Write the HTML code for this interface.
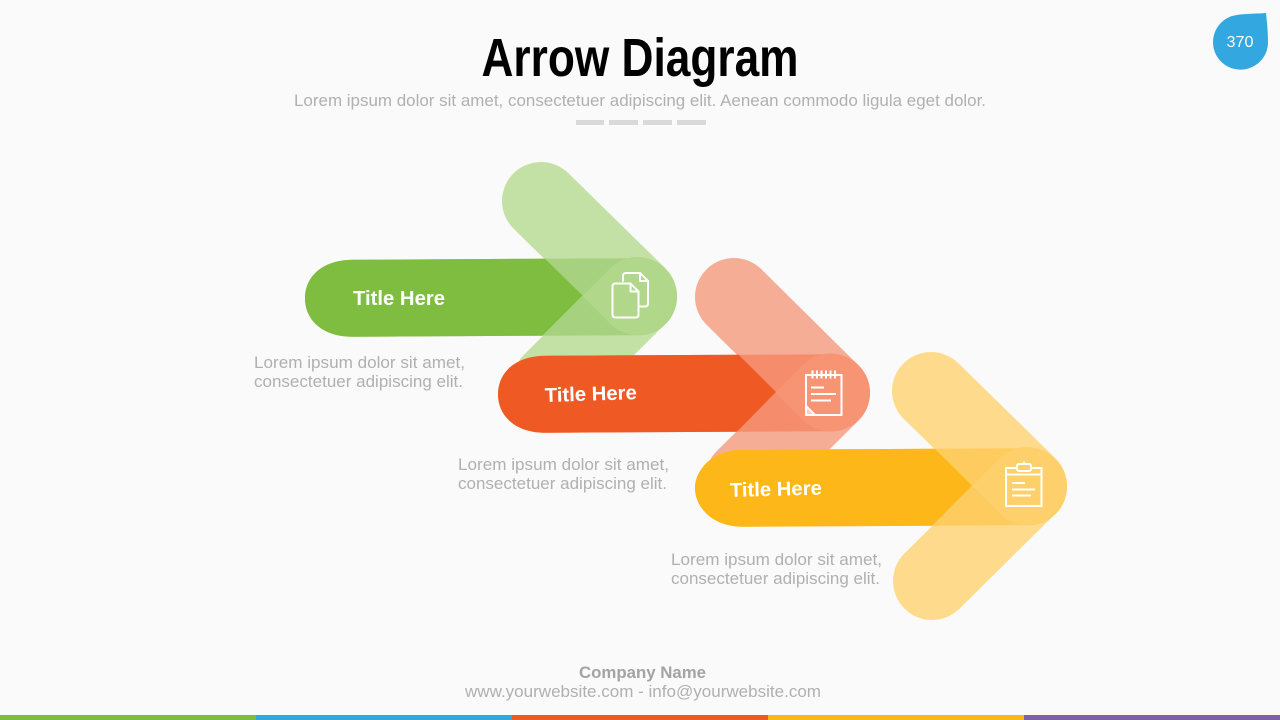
<!DOCTYPE html>
<html><head><meta charset="utf-8"><title>Arrow Diagram</title>
<style>html,body{margin:0;padding:0;background:#fafafa;width:1280px;height:720px;overflow:hidden}svg{display:block}text{font-family:"Liberation Sans",sans-serif}</style></head>
<body>
<svg width="1280" height="720" viewBox="0 0 1280 720" xmlns="http://www.w3.org/2000/svg">
<defs>
<clipPath id="cg"><polygon points="290,240 526,240 582.5,296 526,352 290,352"/></clipPath>
<clipPath id="co"><polygon points="480,336 720,336 776,392.5 720,449 480,449"/></clipPath>
<clipPath id="cy"><polygon points="680,430 916,430 972,486 916,542 680,542"/></clipPath>
</defs>
<rect width="1280" height="720" fill="#fafafa"/>

<text x="640" y="76" font-size="54" font-weight="700" text-anchor="middle" textLength="317" lengthAdjust="spacingAndGlyphs" fill="#000" style="font-family:'Liberation Sans Narrow','Liberation Sans',sans-serif">Arrow Diagram</text>
<text x="294" y="106" font-size="17" textLength="692" lengthAdjust="spacingAndGlyphs" fill="#b0b0b0">Lorem ipsum dolor sit amet, consectetuer adipiscing elit. Aenean commodo ligula eget dolor.</text>
<g fill="#d9d9d9"><rect x="576" y="120" width="28" height="5"/><rect x="609" y="120" width="29" height="5"/><rect x="643" y="120" width="29" height="5"/><rect x="677" y="120" width="29" height="5"/></g>

<path d="M1266,13 C1252,14 1241,13.5 1232,16 A27.5,27.5 0 1 0 1268,41.5 C1268,32 1267,22 1266,13Z" fill="#33a8e0"/>
<text x="1240" y="47" font-size="16" text-anchor="middle" textLength="27" lengthAdjust="spacingAndGlyphs" fill="#fff">370</text>

<!-- Green -->
<polyline points="541,201 638,296 551,383" fill="none" stroke="#c3e1a4" stroke-width="78" stroke-linecap="round" stroke-linejoin="round"/>
<g transform="rotate(-0.3 491 297)">
<path d="M353,259 C321,259 305,277 305,297.500 C305,318 321,336 353,336 H638.500 A38.500,38.500 0 0 0 638.500,259Z" fill="#a6d17e"/>
<g clip-path="url(#cg)"><path d="M353,259 C321,259 305,277 305,297.500 C305,318 321,336 353,336 H638.500 A38.500,38.500 0 0 0 638.500,259Z" fill="#7fbd41"/></g>
</g>
<path d="M582.500,296 L610.400,268 A39,39 0 1 1 610.400,324 Z" fill="#b1d78a"/>
<text x="353" y="305" font-size="20" font-weight="700" textLength="92" lengthAdjust="spacingAndGlyphs" fill="#fff">Title Here</text>
<g fill="none" stroke="#fff" stroke-width="2" stroke-linejoin="round" stroke-linecap="round">
<path d="M623,281 V276 Q623,273 626,273 H640 L648,281 V303.500 Q648,306.500 645,306.500 H640"/>
<path d="M640,273 V281 H648"/>
<path d="M615.500,283.500 H630.500 L638.500,291.500 V314.500 Q638.500,317.500 635.500,317.500 H615.500 Q612.500,317.500 612.500,314.500 V286.500 Q612.500,283.500 615.500,283.500Z"/>
<path d="M630.500,283.500 V291.500 H638.500"/>
</g>
<text x="254" y="368" font-size="16.500" textLength="211" lengthAdjust="spacingAndGlyphs" fill="#b0b0b0">Lorem ipsum dolor sit amet,</text>
<text x="254" y="387" font-size="16.500" textLength="209" lengthAdjust="spacingAndGlyphs" fill="#b0b0b0">consectetuer adipiscing elit.</text>

<!-- Orange -->
<polyline points="734,297 831,393 744,479" fill="none" stroke="#f6ad95" stroke-width="78" stroke-linecap="round" stroke-linejoin="round"/>
<g transform="rotate(-0.3 684 393.500)">
<path d="M546,355 C514,355 498,373 498,393.500 C498,414 514,432 546,432 H831.500 A38.500,38.500 0 0 0 831.500,355Z" fill="#f58d6d"/>
<g clip-path="url(#co)"><path d="M546,355 C514,355 498,373 498,393.500 C498,414 514,432 546,432 H831.500 A38.500,38.500 0 0 0 831.500,355Z" fill="#ef5a24"/></g>
</g>
<path d="M775.500,392.500 L803.400,364.500 A39,39 0 1 1 803.400,420.500 Z" fill="#f69474"/>
<text transform="translate(545 402) rotate(-1.800)" font-size="20" font-weight="700" textLength="92" lengthAdjust="spacingAndGlyphs" fill="#fff">Title Here</text>
<g fill="none" stroke="#fff" stroke-width="2">
<rect x="806" y="375" width="35.500" height="40"/>
<path d="M812.500,370.500 V378.500 M817,370.500 V378.500 M821.500,370.500 V378.500 M826,370.500 V378.500 M830.500,370.500 V378.500 M835,370.500 V378.500"/>
<path d="M811,387.500 H824 M811,394 H836 M811,400.500 H831"/>
<path d="M806,406 L815,415"/>
</g>
<path d="M806,406 L815,415 H806Z" fill="#fff" opacity=".55"/>
<text x="458" y="470" font-size="16.500" textLength="211" lengthAdjust="spacingAndGlyphs" fill="#b0b0b0">Lorem ipsum dolor sit amet,</text>
<text x="458" y="489" font-size="16.500" textLength="209" lengthAdjust="spacingAndGlyphs" fill="#b0b0b0">consectetuer adipiscing elit.</text>

<!-- Yellow -->
<polyline points="931,391 1028,486 932,581" fill="none" stroke="#fedb8c" stroke-width="78" stroke-linecap="round" stroke-linejoin="round"/>
<g transform="rotate(-0.3 881 487.500)">
<path d="M743,449 C711,449 695,470 695,487.500 C695,505 711,526 743,526 H1028.500 A38.500,38.500 0 0 0 1028.500,449Z" fill="#fecb5e"/>
<g clip-path="url(#cy)"><path d="M743,449 C711,449 695,470 695,487.500 C695,505 711,526 743,526 H1028.500 A38.500,38.500 0 0 0 1028.500,449Z" fill="#feb718"/></g>
</g>
<path d="M972.500,486 L1000.400,458 A39,39 0 1 1 1000.400,514 Z" fill="#fed06c"/>
<text transform="translate(730 497) rotate(-1.500)" font-size="20" font-weight="700" textLength="92" lengthAdjust="spacingAndGlyphs" fill="#fff">Title Here</text>
<g fill="none" stroke="#fff" stroke-width="2">
<rect x="1006" y="468" width="35.500" height="38"/>
<path d="M1006,474.500 H1041.500"/>
<rect x="1017" y="464" width="14" height="7" rx="2" fill="#fed06c"/>
<path d="M1024,464 V461.500"/>
<path d="M1012,483 H1025 M1012,489.500 H1035 M1012,495.500 H1031"/>
</g>
<text x="671" y="565" font-size="16.500" textLength="211" lengthAdjust="spacingAndGlyphs" fill="#b0b0b0">Lorem ipsum dolor sit amet,</text>
<text x="671" y="584" font-size="16.500" textLength="209" lengthAdjust="spacingAndGlyphs" fill="#b0b0b0">consectetuer adipiscing elit.</text>

<!-- Footer -->
<text x="579" y="678" font-size="16.500" font-weight="700" textLength="127" lengthAdjust="spacingAndGlyphs" fill="#a3a3a3">Company Name</text>
<text x="465" y="697" font-size="16.500" textLength="356" lengthAdjust="spacingAndGlyphs" fill="#b0b0b0">www.yourwebsite.com - info@yourwebsite.com</text>
<rect x="0" y="715" width="256" height="5" fill="#7fbd41"/>
<rect x="256" y="715" width="256" height="5" fill="#33a8e0"/>
<rect x="512" y="715" width="256" height="5" fill="#ef5a24"/>
<rect x="768" y="715" width="256" height="5" fill="#feb718"/>
<rect x="1024" y="715" width="256" height="5" fill="#7e62a8"/>
</svg>
</body></html>
